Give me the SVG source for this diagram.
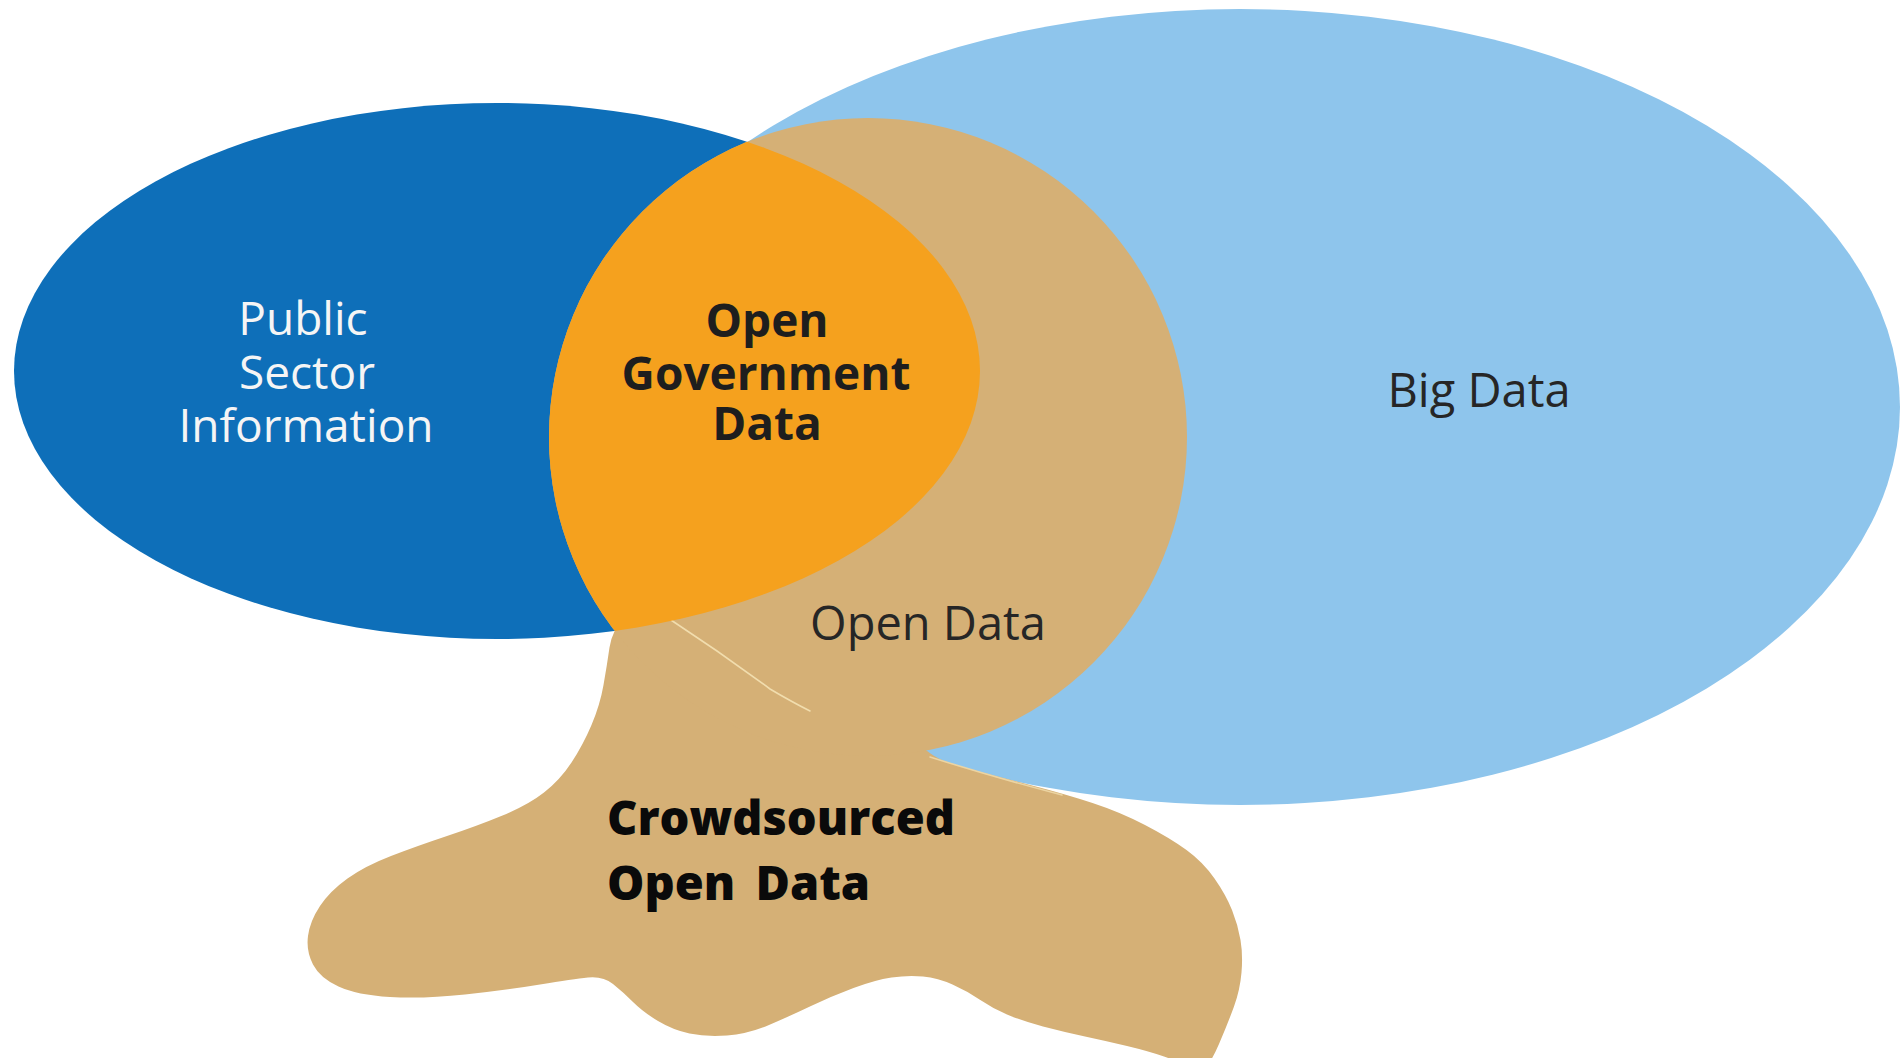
<svg xmlns="http://www.w3.org/2000/svg" width="1903" height="1058" viewBox="0 0 1903 1058">
  <defs>
    <style>
      .light { fill: #8EC5EC; }
      .dark { fill: #0E6FB9; }
      .tan { fill: #D5B076; }
      .orange { fill: #F5A11E; }
      .lbl { font-family: "Open Sans", "Noto Sans", "Liberation Sans", sans-serif; font-size: 47px; text-anchor: middle; }
      .lbl-white { fill: #F5F5F5; font-size: 46px; }
      .lbl-dark { fill: #262626; }
      .lbl-bold { font-weight: 700; fill: #1E1E1E; font-size: 46px; }
      .lbl-crowd { font-family: "Open Sans", "Noto Sans", "Liberation Sans", sans-serif; font-weight: 800; font-size: 47px; fill: #0A0A0A; }
      .crack { fill: none; stroke: #F1DDAE; stroke-width: 1.6; stroke-linecap: round; }
    </style>
    <!-- the Open Data circle, reused as a clip for the government-data overlap -->
    <clipPath id="openDataClip">
      <circle cx="868" cy="437" r="319"/>
    </clipPath>
  </defs>

  <rect width="1903" height="1058" fill="#FFFFFF"/>

  <!-- Big Data -->
  <g id="node-big-data">
    <ellipse class="light" cx="1240" cy="407" rx="660" ry="398"/>
    <text class="lbl lbl-dark" x="1479" y="407">Big Data</text>
  </g>

  <!-- Crowdsourced Open Data: irregular blob hanging under the Open Data circle -->
  <g id="node-crowdsourced">
    <path class="tan" d="M760,650
      Q640,600 626,615 Q612,630 609.5,647.5 Q607,665 603.5,685 Q600,705 591.5,725
      Q583,745 571.5,762.5 Q560,780 544,792.5 Q528,805 502.5,815.5 Q477,826 447,836
      Q417,846 391,856 Q365,866 347.5,878.5 Q330,891 320,906 Q310,921 308,936
      Q306,951 313,964.5 Q320,978 338.5,986.5 Q357,995 390,997 Q423,999 465,994.5
      Q507,990 540,984.5 Q573,979 588,977.5 Q603,976 613,984 Q623,992 633,1002
      Q643,1012 658,1021 Q673,1030 689.5,1033.5 Q706,1037 727,1035.5 Q748,1034 769,1025
      Q790,1016 811,1006 Q832,996 853.5,988 Q875,980 891.5,977.5 Q908,975 923,976.5
      Q938,978 952.5,984.5 Q967,991 979.5,999.5 Q992,1008 1007,1014.5 Q1022,1021 1043,1026.5
      Q1064,1032 1085,1036.5 Q1106,1041 1127,1046 Q1148,1051 1164,1056.5 Q1180,1062 1187.5,1068.5
      Q1195,1075 1202.5,1070 Q1210,1065 1219,1044 Q1228,1023 1234,1006.5 Q1240,990 1241.5,972.5
      Q1243,955 1240.5,940 Q1238,925 1232,910 Q1226,895 1214.5,878.5 Q1203,862 1186.5,850
      Q1170,838 1145,825 Q1120,812 1092.5,803 Q1065,794 1034,786 Q1003,778 981.5,772
      Q960,766 943.5,760.5 Q927,755 903.5,727.5 Q880,700 760,650 Z"/>
    <path class="crack" d="M930,757 Q990,776 1062,795" opacity="0.8"/>
    <text class="lbl-crowd" x="607" y="835">Crowdsourced<tspan x="607" dy="65" word-spacing="8">Open Data</tspan></text>
  </g>

  <!-- Public Sector Information -->
  <g id="node-psi">
    <ellipse class="dark" cx="497" cy="371" rx="483" ry="268"/>
    <text class="lbl lbl-white" x="303" y="335">Public<tspan x="307" dy="54">Sector</tspan><tspan x="306" dy="53">Information</tspan></text>
  </g>

  <!-- Open Data -->
  <g id="node-open-data">
    <circle class="tan" cx="868" cy="437" r="319"/>
    <path class="crack" d="M668,618 Q720,652 770,689 Q792,702 810,711"/>
    <text class="lbl lbl-dark" x="928" y="640">Open Data</text>
  </g>

  <!-- Open Government Data: overlap of public sector information and open data -->
  <g id="node-ogd">
    <ellipse class="orange" cx="497" cy="371" rx="483" ry="268" clip-path="url(#openDataClip)"/>
    <text class="lbl lbl-bold" x="767" y="337">Open<tspan x="766" dy="53">Government</tspan><tspan x="767" dy="50">Data</tspan></text>
  </g>
</svg>
